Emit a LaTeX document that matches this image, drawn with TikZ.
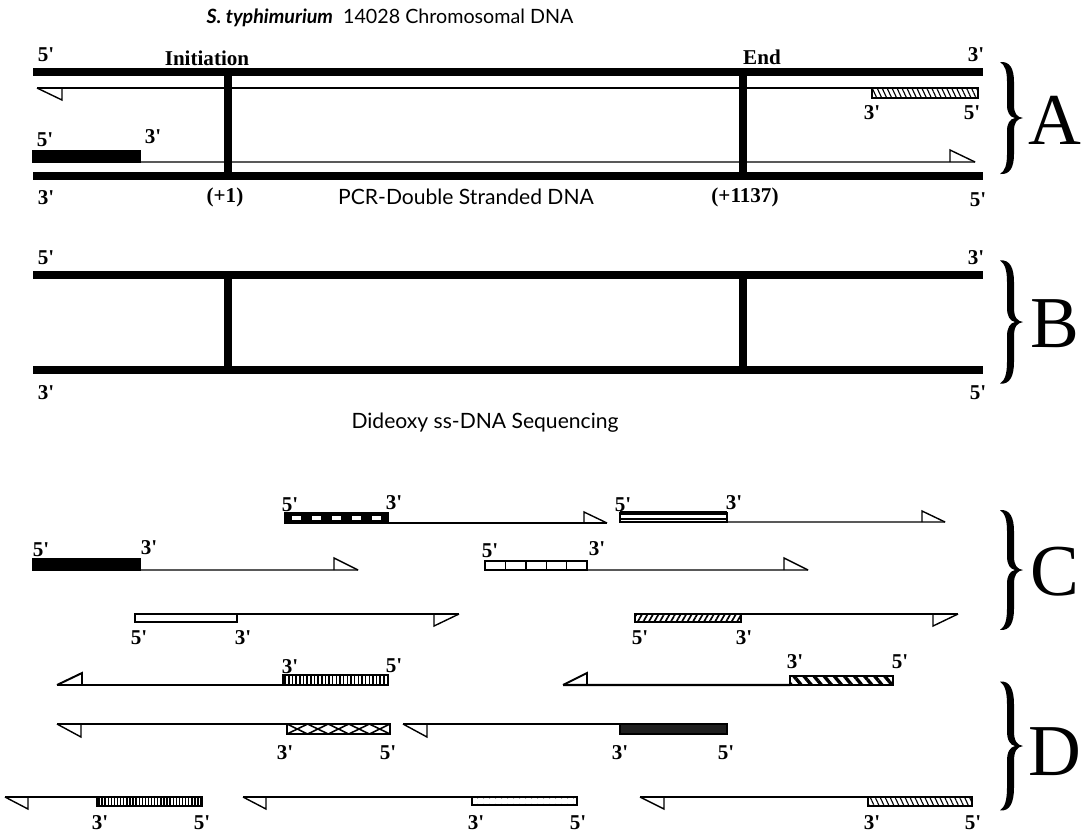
\documentclass[tikz,border=0pt]{standalone}
\usepackage{fontspec}
\setmainfont{Liberation Serif}
\newfontfamily\opt{Lato}
\newcommand\ap{\textquotesingle}
\usetikzlibrary{patterns.meta}
\tikzset{
  curly/.pic={\fill (0,-56) .. controls (10,-57) and (14,-49) .. (14,-36) -- (14,-13) .. controls (14,-4) and (17,-1) .. (23,0) .. controls (17,1) and (14,4) .. (14,13) -- (14,36) .. controls (14,49) and (10,57) .. (0,56) .. controls (5,53) and (7,47) .. (7,36) -- (7,13) .. controls (7,5) and (10,1) .. (15,0) .. controls (10,-1) and (7,-5) .. (7,-13) -- (7,-36) .. controls (7,-47) and (5,-53) .. (0,-56) -- cycle;}
}
\begin{document}
\begin{tikzpicture}[x=0.025cm,y=-0.025cm,
  strand/.style={line width=5.7pt},
  thinl/.style={line width=0.8pt},
  boldl/.style={line width=1.5pt},
  harr/.style={line width=1pt, line join=miter},
  primer/.style 2 args={draw, line width=1pt, rectangle, inner sep=0pt, outer sep=0pt, anchor=north west, minimum width=#1*0.025cm, minimum height=#2*0.025cm},
  lab/.style={font=\fontsize{15}{15}\selectfont\bfseries, inner sep=0pt},
  big/.style={font=\fontsize{52}{52}\selectfont, inner sep=0pt, anchor=west},
  optl/.style={font=\opt\fontsize{15}{15}\selectfont, inner sep=0pt}
]
\useasboundingbox (0,0) rectangle (1082,837);

% ---------- Title ----------
\node[optl, font=\opt\fontsize{14}{14}\selectfont] (title) at (390,18) {{\bfseries\itshape S. typhimurium}\ \ 14028 Chromosomal DNA};

% ---------- A ----------
\draw[strand] (33,72) -- (983,72);
\draw[strand] (33,176) -- (983,176);
\draw[strand] (228,72) -- (228,176);
\draw[strand] (743,72) -- (743,176);
\node[lab] (a5t) at (46,55) {5\ap};
\node[lab] (ainit) at (207,58) {Initiation};
\node[lab] (aend) at (762,57) {End};
\node[lab] (a3t) at (976,55) {3\ap};
\node[lab] (a3b) at (46,198) {3\ap};
\node[lab] (aplus1) at (225,197) {(+1)};
\node[optl] (apcr) at (466,197) {PCR-Double Stranded DNA};
\node[lab] (aplus2) at (745,197) {(+1137)};
\node[lab] (a5b) at (978,200) {5\ap};

\coordinate (tA1) at (37,88);
\node[primer={106}{10}, pattern={Lines[angle=-65,distance=3.2pt,line width=0.8pt]}] (pA2) at (872,88) {};
\draw[thinl] (tA1) -- (pA2.north east);
\draw[harr] (tA1) -- ++(25,12) -- ++(0,-12);
\node[lab] (pA2l) at (872,113) {3\ap};
\node[lab] (pA2r) at (972,113) {5\ap};

\node[primer={107}{11}, fill=black] (pA1) at (33,151) {};
\coordinate (tA2) at (975,162);
\draw[thinl] (pA1.south east) -- (tA2);
\draw[harr] (tA2) -- ++(-25,-12) -- ++(0,12);
\node[lab] (pA1l) at (45,140) {5\ap};
\node[lab] (pA1r) at (153,137) {3\ap};

\pic at (1000,118) {curly};
\node[big] (LA) at (1028,120) {A};

% ---------- B ----------
\draw[strand] (33,275) -- (983,275);
\draw[strand] (33,370) -- (983,370);
\draw[strand] (228,275) -- (228,370);
\draw[strand] (743,275) -- (743,370);
\node[lab] (b5t) at (46,258) {5\ap};
\node[lab] (b3t) at (976,258) {3\ap};
\node[lab] (b3b) at (46,393) {3\ap};
\node[lab] (b5b) at (978,393) {5\ap};
\node[optl] (bdid) at (485,423) {Dideoxy ss-DNA Sequencing};
\pic[yscale=1.1] at (1000,322) {curly};
\node[big] (LB) at (1030,324) {B};

% ---------- C ----------
% row 1
\node[primer={103}{10}, fill=black] (c1) at (285,513) {};
\foreach \i in {0,...,4} \fill[white] (292+\i*20,516) rectangle ++(9,4);
\coordinate (tc1) at (607,523);
\draw[thinl] (c1.south east) -- (tc1);
\draw[harr] (tc1) -- ++(-23,-11) -- ++(0,11);
\node[lab] (c1l) at (290,505) {5\ap};
\node[lab] (c1r) at (394,503) {3\ap};

\node[primer={107}{9}] (c2) at (620,513) {};
\draw[line width=2.2pt] (c2.north west) -- (c2.north east);
\draw[line width=0.8pt] (620,519) -- (727,519);
\coordinate (tc2) at (945,522);
\draw[thinl] (c2.south east) -- (tc2);
\draw[harr] (tc2) -- ++(-23,-11) -- ++(0,11);
\node[lab] (c2l) at (623,505) {5\ap};
\node[lab] (c2r) at (734,503) {3\ap};

% row 2
\node[primer={107}{11}, fill=black] (c3) at (33,559) {};
\coordinate (tc3) at (358,570);
\draw[thinl] (c3.south east) -- (tc3);
\draw[harr] (tc3) -- ++(-24,-12) -- ++(0,12);
\node[lab] (c3l) at (41,550) {5\ap};
\node[lab] (c3r) at (149,548) {3\ap};

\node[primer={102}{9}, line width=1.3pt] (c4) at (485,561) {};
\foreach \i in {1,...,4} \draw[line width=1pt] (485+\i*20.4,561) -- (485+\i*20.4,570);
\coordinate (tc4) at (808,570);
\draw[thinl] (c4.south east) -- (tc4);
\draw[harr] (tc4) -- ++(-24,-12) -- ++(0,12);
\node[lab] (c4l) at (490,551) {5\ap};
\node[lab] (c4r) at (597,549) {3\ap};

% row 3
\node[primer={102}{8}] (c5) at (135,614) {};
\coordinate (tc5) at (459,614);
\draw[thinl] (c5.north east) -- (tc5);
\draw[harr] (tc5) -- ++(-25,12) -- ++(0,-12);
\node[lab] (c5l) at (139,638) {5\ap};
\node[lab] (c5r) at (243,638) {3\ap};

\node[primer={106}{8}, pattern={Lines[angle=60,distance=3.4pt,line width=1.2pt]}] (c6) at (635,614) {};
\coordinate (tc6) at (958,614);
\draw[thinl] (c6.north east) -- (tc6);
\draw[harr] (tc6) -- ++(-25,12) -- ++(0,-12);
\node[lab] (c6l) at (640,638) {5\ap};
\node[lab] (c6r) at (744,638) {3\ap};

\pic[yscale=1.07] at (1000,570) {curly};
\node[big] (LC) at (1030,572) {C};

% ---------- D ----------
% row 1
\node[primer={105}{10}, pattern={Lines[angle=90,distance=2.6pt,line width=1.1pt]}] (d1) at (283,675) {};
\coordinate (td1) at (57,685);
\draw[boldl] (td1) -- (d1.south west);
\draw[harr, line width=1.4pt] (td1) -- ++(25,-12) -- ++(0,12);
\node[lab] (d1l) at (290,667) {3\ap};
\node[lab] (d1r) at (394,666) {5\ap};

\node[primer={103}{9}, pattern={Lines[angle=-50,distance=5.5pt,line width=2.4pt]}] (d2) at (790,676) {};
\coordinate (td2) at (563,685);
\draw[boldl] (td2) -- (d2.south west);
\draw[harr, line width=1.4pt] (td2) -- ++(24,-12) -- ++(0,12);
\node[lab] (d2l) at (795,662) {3\ap};
\node[lab] (d2r) at (900,662) {5\ap};

% row 2
\node[primer={103}{10}] (d3) at (287,724) {};
\foreach \i in {0,...,4} \draw[line width=1.1pt] (287+\i*20.6,724) -- (307.6+\i*20.6,734) (287+\i*20.6,734) -- (307.6+\i*20.6,724);
\coordinate (td3) at (57,724);
\draw[thinl] (td3) -- (d3.north west);
\draw[harr] (td3) -- ++(24,13) -- ++(0,-13);
\node[lab] (d3l) at (285,753) {3\ap};
\node[lab] (d3r) at (388,753) {5\ap};

\node[primer={107}{10}, fill=black!88] (d4) at (620,724) {};
\coordinate (td4) at (403,724);
\draw[thinl] (td4) -- (d4.north west);
\draw[harr] (td4) -- ++(24,13) -- ++(0,-13);
\node[lab] (d4l) at (620,753) {3\ap};
\node[lab] (d4r) at (726,753) {5\ap};

% row 3
\node[primer={105}{9}, pattern={Lines[angle=90,distance=2.2pt,line width=1pt]}] (d5) at (97,797) {};
\coordinate (td5) at (5,797);
\draw[thinl] (td5) -- (d5.north west);
\draw[harr] (td5) -- ++(23,12) -- ++(0,-12);
\node[lab] (d5l) at (100,823) {3\ap};
\node[lab] (d5r) at (202,823) {5\ap};

\node[primer={105}{8}, line width=1.2pt, pattern={Dots[radius=0.35pt,distance=4pt]}, pattern color=black!60] (d6) at (472,797) {};
\coordinate (td6) at (243,797);
\draw[thinl] (td6) -- (d6.north west);
\draw[harr] (td6) -- ++(23,12) -- ++(0,-12);
\node[lab] (d6l) at (476,823) {3\ap};
\node[lab] (d6r) at (578,823) {5\ap};

\node[primer={104}{9}, pattern={Lines[angle=-65,distance=3.2pt,line width=0.8pt]}] (d7) at (868,797) {};
\coordinate (td7) at (640,797);
\draw[thinl] (td7) -- (d7.north west);
\draw[harr] (td7) -- ++(24,12) -- ++(0,-12);
\node[lab] (d7l) at (872,823) {3\ap};
\node[lab] (d7r) at (973,823) {5\ap};

\pic[yscale=1.15] at (1000,746) {curly};
\node[big] (LD) at (1028,752) {D};
\end{tikzpicture}
\end{document}
